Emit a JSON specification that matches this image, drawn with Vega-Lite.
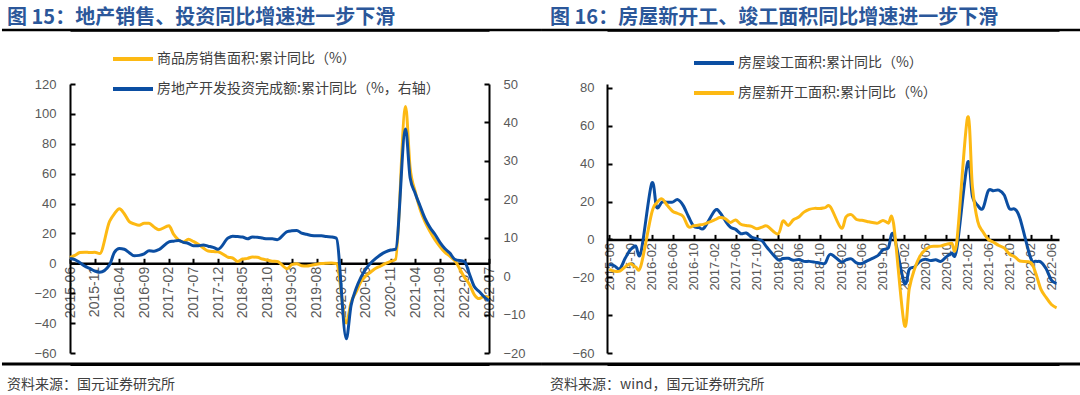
{
  "$schema": "https://vega.github.io/schema/vega-lite/v6.json",
  "autosize": {"type": "pad"},
  "padding": {"left": 0, "top": 7, "right": 0, "bottom": 0},
  "bounds": "flush",
  "spacing": 118,
  "resolve": {"scale": {"color": "independent"}, "legend": {"color": "independent"}},
  "config": {
    "view": {"stroke": null},
    "font": "Noto Sans CJK SC",
    "axis": {"grid": false, "domainColor": "#000000", "domainWidth": 2, "tickColor": "#000000", "tickWidth": 2, "labelFont": "Liberation Sans", "labelColor": "#595959", "labelFontSize": 13, "labelOverlap": false, "tickCount": 100}
  },
  "datasets": {
    "sales": [
      {"d":"2015-06-01","v":3.9},{"d":"2015-07-01","v":5.3},{"d":"2015-08-01","v":7.2},{"d":"2015-09-01","v":7.5},{"d":"2015-10-01","v":7.2},{"d":"2015-11-01","v":7.4},{"d":"2015-12-01","v":6.5},
      {"d":"2016-02-01","v":28.2},{"d":"2016-03-01","v":33.1},{"d":"2016-04-01","v":36.5},{"d":"2016-05-01","v":33.2},{"d":"2016-06-01","v":27.9},{"d":"2016-07-01","v":26.4},{"d":"2016-08-01","v":25.5},{"d":"2016-09-01","v":26.9},{"d":"2016-10-01","v":26.8},{"d":"2016-11-01","v":24.3},{"d":"2016-12-01","v":22.5},
      {"d":"2017-02-01","v":25.1},{"d":"2017-03-01","v":19.5},{"d":"2017-04-01","v":15.7},{"d":"2017-05-01","v":14.3},{"d":"2017-06-01","v":16.1},{"d":"2017-07-01","v":14.7},{"d":"2017-08-01","v":12.7},{"d":"2017-09-01","v":10.3},{"d":"2017-10-01","v":8.2},{"d":"2017-11-01","v":7.9},{"d":"2017-12-01","v":7.7},
      {"d":"2018-02-01","v":4.1},{"d":"2018-03-01","v":3.6},{"d":"2018-04-01","v":1.3},{"d":"2018-05-01","v":2.9},{"d":"2018-06-01","v":3.3},{"d":"2018-07-01","v":4.2},{"d":"2018-08-01","v":4.0},{"d":"2018-09-01","v":2.9},{"d":"2018-10-01","v":2.2},{"d":"2018-11-01","v":1.4},{"d":"2018-12-01","v":1.3},
      {"d":"2019-02-01","v":-3.6},{"d":"2019-03-01","v":-0.9},{"d":"2019-04-01","v":-0.3},{"d":"2019-05-01","v":-1.6},{"d":"2019-06-01","v":-1.8},{"d":"2019-07-01","v":-1.3},{"d":"2019-08-01","v":-0.6},{"d":"2019-09-01","v":-0.1},{"d":"2019-10-01","v":0.1},{"d":"2019-11-01","v":0.2},{"d":"2019-12-01","v":-0.1},
      {"d":"2020-02-01","v":-39.9},{"d":"2020-03-01","v":-26.3},{"d":"2020-04-01","v":-19.3},{"d":"2020-05-01","v":-12.3},{"d":"2020-06-01","v":-8.4},{"d":"2020-07-01","v":-5.8},{"d":"2020-08-01","v":-3.3},{"d":"2020-09-01","v":-1.8},{"d":"2020-10-01","v":0.0},{"d":"2020-11-01","v":1.3},{"d":"2020-12-01","v":2.6},
      {"d":"2021-02-01","v":104.9},{"d":"2021-03-01","v":63.8},{"d":"2021-04-01","v":48.1},{"d":"2021-05-01","v":36.3},{"d":"2021-06-01","v":27.7},{"d":"2021-07-01","v":21.5},{"d":"2021-08-01","v":15.9},{"d":"2021-09-01","v":11.3},{"d":"2021-10-01","v":7.5},{"d":"2021-11-01","v":4.8},{"d":"2021-12-01","v":1.9},
      {"d":"2022-02-01","v":-9.6},{"d":"2022-03-01","v":-13.8},{"d":"2022-04-01","v":-20.9},{"d":"2022-05-01","v":-23.6},{"d":"2022-06-01","v":-22.2},{"d":"2022-07-01","v":-23.1}
    ],
    "inv": [
      {"d":"2015-06-01","v":4.6},{"d":"2015-07-01","v":4.3},{"d":"2015-08-01","v":3.5},{"d":"2015-09-01","v":2.6},{"d":"2015-10-01","v":2.0},{"d":"2015-11-01","v":1.3},{"d":"2015-12-01","v":1.0},
      {"d":"2016-02-01","v":3.0},{"d":"2016-03-01","v":6.2},{"d":"2016-04-01","v":7.2},{"d":"2016-05-01","v":7.0},{"d":"2016-06-01","v":6.1},{"d":"2016-07-01","v":5.3},{"d":"2016-08-01","v":5.4},{"d":"2016-09-01","v":5.8},{"d":"2016-10-01","v":6.6},{"d":"2016-11-01","v":6.5},{"d":"2016-12-01","v":6.9},
      {"d":"2017-02-01","v":8.9},{"d":"2017-03-01","v":9.1},{"d":"2017-04-01","v":9.3},{"d":"2017-05-01","v":8.8},{"d":"2017-06-01","v":8.5},{"d":"2017-07-01","v":7.9},{"d":"2017-08-01","v":7.9},{"d":"2017-09-01","v":8.1},{"d":"2017-10-01","v":7.8},{"d":"2017-11-01","v":7.5},{"d":"2017-12-01","v":7.0},
      {"d":"2018-02-01","v":9.9},{"d":"2018-03-01","v":10.4},{"d":"2018-04-01","v":10.3},{"d":"2018-05-01","v":10.2},{"d":"2018-06-01","v":9.7},{"d":"2018-07-01","v":10.2},{"d":"2018-08-01","v":10.1},{"d":"2018-09-01","v":9.9},{"d":"2018-10-01","v":9.7},{"d":"2018-11-01","v":9.7},{"d":"2018-12-01","v":9.5},
      {"d":"2019-02-01","v":11.6},{"d":"2019-03-01","v":11.8},{"d":"2019-04-01","v":11.9},{"d":"2019-05-01","v":11.2},{"d":"2019-06-01","v":10.9},{"d":"2019-07-01","v":10.6},{"d":"2019-08-01","v":10.5},{"d":"2019-09-01","v":10.5},{"d":"2019-10-01","v":10.3},{"d":"2019-11-01","v":10.2},{"d":"2019-12-01","v":9.9},
      {"d":"2020-02-01","v":-16.3},{"d":"2020-03-01","v":-7.7},{"d":"2020-04-01","v":-3.3},{"d":"2020-05-01","v":-0.3},{"d":"2020-06-01","v":1.9},{"d":"2020-07-01","v":3.4},{"d":"2020-08-01","v":4.6},{"d":"2020-09-01","v":5.6},{"d":"2020-10-01","v":6.3},{"d":"2020-11-01","v":6.8},{"d":"2020-12-01","v":7.0},
      {"d":"2021-02-01","v":38.3},{"d":"2021-03-01","v":25.6},{"d":"2021-04-01","v":21.6},{"d":"2021-05-01","v":18.3},{"d":"2021-06-01","v":15.0},{"d":"2021-07-01","v":12.7},{"d":"2021-08-01","v":10.9},{"d":"2021-09-01","v":8.8},{"d":"2021-10-01","v":7.2},{"d":"2021-11-01","v":6.0},{"d":"2021-12-01","v":4.4},
      {"d":"2022-02-01","v":3.7},{"d":"2022-03-01","v":0.7},{"d":"2022-04-01","v":-2.7},{"d":"2022-05-01","v":-4.0},{"d":"2022-06-01","v":-5.4},{"d":"2022-07-01","v":-6.4}
    ],
    "comp": [
      {"d":"2015-06-01","v":-13.2},{"d":"2015-07-01","v":-14.0},{"d":"2015-08-01","v":-15.5},{"d":"2015-09-01","v":-10.0},{"d":"2015-10-01","v":-5.5},{"d":"2015-11-01","v":-3.5},{"d":"2015-12-01","v":-6.9},
      {"d":"2016-02-01","v":29.4},{"d":"2016-03-01","v":17.0},{"d":"2016-04-01","v":19.7},{"d":"2016-05-01","v":19.7},{"d":"2016-06-01","v":19.7},{"d":"2016-07-01","v":21.0},{"d":"2016-08-01","v":18.0},{"d":"2016-09-01","v":12.1},{"d":"2016-10-01","v":7.0},{"d":"2016-11-01","v":6.3},{"d":"2016-12-01","v":6.1},
      {"d":"2017-02-01","v":15.3},{"d":"2017-03-01","v":14.3},{"d":"2017-04-01","v":10.0},{"d":"2017-05-01","v":6.5},{"d":"2017-06-01","v":5.3},{"d":"2017-07-01","v":3.0},{"d":"2017-08-01","v":3.4},{"d":"2017-09-01","v":1.2},{"d":"2017-10-01","v":0.4},{"d":"2017-11-01","v":-0.8},{"d":"2017-12-01","v":-4.4},
      {"d":"2018-02-01","v":-10.7},{"d":"2018-03-01","v":-10.1},{"d":"2018-04-01","v":-10.0},{"d":"2018-05-01","v":-11.0},{"d":"2018-06-01","v":-10.6},{"d":"2018-07-01","v":-11.6},{"d":"2018-08-01","v":-11.6},{"d":"2018-09-01","v":-12.0},{"d":"2018-10-01","v":-12.5},{"d":"2018-11-01","v":-12.5},{"d":"2018-12-01","v":-7.8},
      {"d":"2019-02-01","v":-11.9},{"d":"2019-03-01","v":-10.8},{"d":"2019-04-01","v":-10.3},{"d":"2019-05-01","v":-12.4},{"d":"2019-06-01","v":-12.7},{"d":"2019-07-01","v":-11.3},{"d":"2019-08-01","v":-10.0},{"d":"2019-09-01","v":-8.6},{"d":"2019-10-01","v":-5.5},{"d":"2019-11-01","v":-4.5},{"d":"2019-12-01","v":2.6},
      {"d":"2020-02-01","v":-22.9},{"d":"2020-03-01","v":-15.8},{"d":"2020-04-01","v":-14.5},{"d":"2020-05-01","v":-11.6},{"d":"2020-06-01","v":-10.5},{"d":"2020-07-01","v":-11.2},{"d":"2020-08-01","v":-10.8},{"d":"2020-09-01","v":-11.6},{"d":"2020-10-01","v":-9.2},{"d":"2020-11-01","v":-7.3},{"d":"2020-12-01","v":-4.9},
      {"d":"2021-02-01","v":40.4},{"d":"2021-03-01","v":22.9},{"d":"2021-04-01","v":17.9},{"d":"2021-05-01","v":16.4},{"d":"2021-06-01","v":25.7},{"d":"2021-07-01","v":25.7},{"d":"2021-08-01","v":26.0},{"d":"2021-09-01","v":23.4},{"d":"2021-10-01","v":16.3},{"d":"2021-11-01","v":16.0},{"d":"2021-12-01","v":11.2},
      {"d":"2022-02-01","v":-9.8},{"d":"2022-03-01","v":-11.5},{"d":"2022-04-01","v":-11.9},{"d":"2022-05-01","v":-15.3},{"d":"2022-06-01","v":-21.5},{"d":"2022-07-01","v":-23.3}
    ],
    "start": [
      {"d":"2015-06-01","v":-15.8},{"d":"2015-07-01","v":-16.8},{"d":"2015-08-01","v":-16.8},{"d":"2015-09-01","v":-14.5},{"d":"2015-10-01","v":-12.8},{"d":"2015-11-01","v":-14.6},{"d":"2015-12-01","v":-14.0},
      {"d":"2016-02-01","v":13.7},{"d":"2016-03-01","v":19.2},{"d":"2016-04-01","v":21.4},{"d":"2016-05-01","v":18.0},{"d":"2016-06-01","v":14.9},{"d":"2016-07-01","v":13.7},{"d":"2016-08-01","v":12.2},{"d":"2016-09-01","v":6.7},{"d":"2016-10-01","v":7.2},{"d":"2016-11-01","v":7.6},{"d":"2016-12-01","v":8.1},
      {"d":"2017-02-01","v":10.4},{"d":"2017-03-01","v":11.6},{"d":"2017-04-01","v":11.0},{"d":"2017-05-01","v":9.0},{"d":"2017-06-01","v":10.3},{"d":"2017-07-01","v":8.0},{"d":"2017-08-01","v":7.4},{"d":"2017-09-01","v":6.9},{"d":"2017-10-01","v":5.6},{"d":"2017-11-01","v":6.5},{"d":"2017-12-01","v":7.0},
      {"d":"2018-02-01","v":2.9},{"d":"2018-03-01","v":9.7},{"d":"2018-04-01","v":7.4},{"d":"2018-05-01","v":10.4},{"d":"2018-06-01","v":11.8},{"d":"2018-07-01","v":14.4},{"d":"2018-08-01","v":15.9},{"d":"2018-09-01","v":16.4},{"d":"2018-10-01","v":16.3},{"d":"2018-11-01","v":16.8},{"d":"2018-12-01","v":17.2},
      {"d":"2019-02-01","v":6.0},{"d":"2019-03-01","v":11.9},{"d":"2019-04-01","v":13.1},{"d":"2019-05-01","v":10.5},{"d":"2019-06-01","v":10.1},{"d":"2019-07-01","v":9.5},{"d":"2019-08-01","v":8.9},{"d":"2019-09-01","v":8.6},{"d":"2019-10-01","v":10.0},{"d":"2019-11-01","v":8.6},{"d":"2019-12-01","v":8.5},
      {"d":"2020-02-01","v":-44.9},{"d":"2020-03-01","v":-26.0},{"d":"2020-04-01","v":-15.5},{"d":"2020-05-01","v":-9.0},{"d":"2020-06-01","v":-5.5},{"d":"2020-07-01","v":-3.8},{"d":"2020-08-01","v":-3.6},{"d":"2020-09-01","v":-3.4},{"d":"2020-10-01","v":-2.6},{"d":"2020-11-01","v":-2.0},{"d":"2020-12-01","v":-1.2},
      {"d":"2021-02-01","v":64.3},{"d":"2021-03-01","v":28.2},{"d":"2021-04-01","v":9.5},{"d":"2021-05-01","v":4.0},{"d":"2021-06-01","v":0.0},{"d":"2021-07-01","v":-1.5},{"d":"2021-08-01","v":-3.2},{"d":"2021-09-01","v":-4.5},{"d":"2021-10-01","v":-7.7},{"d":"2021-11-01","v":-9.1},{"d":"2021-12-01","v":-11.4},
      {"d":"2022-02-01","v":-12.2},{"d":"2022-03-01","v":-17.5},{"d":"2022-04-01","v":-26.3},{"d":"2022-05-01","v":-30.6},{"d":"2022-06-01","v":-34.4},{"d":"2022-07-01","v":-36.1}
    ]
  },
  "hconcat": [
    {
      "width": 419,
      "height": 269,
      "title": {"text": "图 15：地产销售、投资同比增速进一步下滑", "anchor": "start", "frame": "group", "dx": -63, "offset": 1, "fontSize": 20, "fontWeight": "bold", "font": "Noto Sans CJK SC", "color": "#2B579A"},
      "layer": [
        {
          "layer": [
            {
              "data": {"values": [{}]},
              "mark": {"type": "rule", "strokeWidth": 2.5, "color": "black"},
              "encoding": {
                "x": {"datum": 1396828800000, "type": "temporal", "axis": {"orient": "top", "offset": 54, "labels": false, "ticks": false, "title": null, "grid": false, "domainWidth": 2.5, "domainColor": "#000000"}},
                "x2": {"datum": 1684886400000},
                "y": {"datum": 156.1, "type": "quantitative"}
              }
            },
            {
              "data": {"values": [{}]},
              "mark": {"type": "rule", "strokeWidth": 3, "color": "black"},
              "encoding": {
                "x": {"datum": 1396828800000, "type": "temporal", "axis": {"orient": "bottom", "offset": 11, "labels": false, "ticks": false, "title": null, "grid": false, "domainWidth": 3, "domainColor": "#000000"}},
                "x2": {"datum": 1684886400000},
                "y": {"datum": -67.4, "type": "quantitative"}
              }
            },
            {
              "data": {"name": "sales"},
              "mark": {"type": "line", "strokeWidth": 3, "interpolate": "monotone"},
              "encoding": {
                "x": {
                  "field": "d", "type": "temporal",
                  "scale": {"domain": [{"year": 2015, "month": 6, "date": 1}, {"year": 2022, "month": 7, "date": 1}]},
                  "axis": {
                    "orient": "bottom", "title": null, "format": "%Y-%m", "labelAngle": 270, "offset": -89.7, "tickSize": -5, "labelPadding": 8, "labelFontSize": 14, "tickCount": 100,
                    "labelFlush": false, "labelOverlap": false, "labelBound": false, "domainWidth": 2.5,
                    "values": [
                      {"year": 2015, "month": 6, "date": 1}, {"year": 2015, "month": 11, "date": 1}, {"year": 2016, "month": 4, "date": 1}, {"year": 2016, "month": 9, "date": 1},
                      {"year": 2017, "month": 2, "date": 1}, {"year": 2017, "month": 7, "date": 1}, {"year": 2017, "month": 12, "date": 1}, {"year": 2018, "month": 5, "date": 1},
                      {"year": 2018, "month": 10, "date": 1}, {"year": 2019, "month": 3, "date": 1}, {"year": 2019, "month": 8, "date": 1}, {"year": 2020, "month": 1, "date": 1},
                      {"year": 2020, "month": 6, "date": 1}, {"year": 2020, "month": 11, "date": 1}, {"year": 2021, "month": 4, "date": 1}, {"year": 2021, "month": 9, "date": 1},
                      {"year": 2022, "month": 2, "date": 1}, {"year": 2022, "month": 7, "date": 1}
                    ]
                  }
                },
                "y": {
                  "field": "v", "type": "quantitative",
                  "scale": {"domain": [-60, 120], "nice": false, "zero": false},
                  "axis": {"title": null, "format": ".0f", "values": [-60, -40, -20, 0, 20, 40, 60, 80, 100, 120], "tickCount": 100, "labelOverlap": false, "tickSize": -5, "labelPadding": 19}
                },
                "color": {
                  "datum": "商品房销售面积:累计同比（%）", "type": "nominal",
                  "scale": {"domain": ["商品房销售面积:累计同比（%）", "房地产开发投资完成额:累计同比（%，右轴）"], "range": ["#FDB913", "#0B4EA2"]},
                  "legend": {"orient": "none", "legendX": 41, "legendY": -47, "title": null, "symbolType": "stroke", "symbolSize": 1600, "symbolStrokeWidth": 4, "labelFontSize": 14, "labelFont": "Noto Sans CJK SC", "labelColor": "#404040", "labelOffset": 2, "rowPadding": -1, "padding": 0, "labelLimit": 500}
                }
              }
            },
            {
              "data": {"values": [{"part": "source"}]},
              "mark": {"type": "text", "align": "left", "baseline": "middle", "fontSize": 14, "color": "#404040", "font": "Noto Sans CJK SC"},
              "encoding": {
                "x": {"datum": {"year": 2014, "month": 5, "date": 8}, "type": "temporal", "axis": null},
                "y": {"datum": -81.4, "type": "quantitative"},
                "text": {"value": "资料来源：国元证券研究所"}
              }
            }
          ],
          "resolve": {"axis": {"x": "independent"}}
        },
        {
          "data": {"name": "inv"},
          "mark": {"type": "line", "strokeWidth": 3, "interpolate": "monotone"},
          "encoding": {
            "x": {"field": "d", "type": "temporal", "scale": {"domain": [{"year": 2015, "month": 6, "date": 1}, {"year": 2022, "month": 7, "date": 1}]}, "axis": null},
            "y": {
              "field": "v", "type": "quantitative",
              "scale": {"domain": [-20, 50], "nice": false, "zero": false},
              "axis": {"orient": "right", "title": null, "format": ".0f", "values": [-20, -10, 0, 10, 20, 30, 40, 50], "tickCount": 100, "labelOverlap": false, "tickSize": -5, "labelPadding": 19}
            },
            "color": {"datum": "房地产开发投资完成额:累计同比（%，右轴）", "type": "nominal"}
          }
        }
      ],
      "resolve": {"scale": {"y": "independent"}, "axis": {"x": "independent"}}
    },
    {
      "width": 452,
      "height": 269,
      "title": {"text": "图 16：房屋新开工、竣工面积同比增速进一步下滑", "anchor": "start", "frame": "group", "dx": -57, "offset": 1, "fontSize": 20, "fontWeight": "bold", "font": "Noto Sans CJK SC", "color": "#2B579A"},
      "layer": [
        {
          "data": {"values": [{}]},
          "mark": {"type": "rule", "strokeWidth": 2.5, "color": "black"},
          "encoding": {
            "x": {"datum": 1399507200000, "type": "temporal", "axis": {"orient": "top", "offset": 54, "labels": false, "ticks": false, "title": null, "grid": false, "domainWidth": 2.5, "domainColor": "#000000"}},
            "x2": {"datum": 1669334400000},
            "y": {"datum": 110.6, "type": "quantitative"}
          }
        },
        {
          "data": {"values": [{}]},
          "mark": {"type": "rule", "strokeWidth": 3, "color": "black"},
          "encoding": {
            "x": {"datum": 1399507200000, "type": "temporal", "axis": {"orient": "bottom", "offset": 11, "labels": false, "ticks": false, "title": null, "grid": false, "domainWidth": 3, "domainColor": "#000000"}},
            "x2": {"datum": 1669334400000},
            "y": {"datum": -65.8, "type": "quantitative"}
          }
        },
        {
          "data": {"name": "comp"},
          "mark": {"type": "line", "strokeWidth": 3, "interpolate": "cardinal"},
          "encoding": {
            "x": {
              "field": "d", "type": "temporal",
              "scale": {"domain": [{"year": 2015, "month": 5, "date": 19}, {"year": 2022, "month": 7, "date": 15}]},
              "axis": {
                "orient": "bottom", "title": null, "format": "%Y-%m", "labelAngle": 270, "offset": -113.6, "tickSize": -5, "labelPadding": 8, "labelFontSize": 13, "tickCount": 100,
                "labelFlush": false, "labelOverlap": false, "labelBound": false, "domainWidth": 2.5,
                "values": [
                  {"year": 2015, "month": 6, "date": 1}, {"year": 2015, "month": 10, "date": 1}, {"year": 2016, "month": 2, "date": 1}, {"year": 2016, "month": 6, "date": 1},
                  {"year": 2016, "month": 10, "date": 1}, {"year": 2017, "month": 2, "date": 1}, {"year": 2017, "month": 6, "date": 1}, {"year": 2017, "month": 10, "date": 1},
                  {"year": 2018, "month": 2, "date": 1}, {"year": 2018, "month": 6, "date": 1}, {"year": 2018, "month": 10, "date": 1}, {"year": 2019, "month": 2, "date": 1},
                  {"year": 2019, "month": 6, "date": 1}, {"year": 2019, "month": 10, "date": 1}, {"year": 2020, "month": 2, "date": 1}, {"year": 2020, "month": 6, "date": 1},
                  {"year": 2020, "month": 10, "date": 1}, {"year": 2021, "month": 2, "date": 1}, {"year": 2021, "month": 6, "date": 1}, {"year": 2021, "month": 10, "date": 1},
                  {"year": 2022, "month": 2, "date": 1}, {"year": 2022, "month": 6, "date": 1}
                ]
              }
            },
            "y": {
              "field": "v", "type": "quantitative",
              "scale": {"domain": [-60, 82.1], "nice": false, "zero": false},
              "axis": {"title": null, "format": ".0f", "values": [-60, -40, -20, 0, 20, 40, 60, 80], "tickCount": 100, "labelOverlap": false, "tickSize": -5, "labelPadding": 18}
            },
            "color": {
              "datum": "房屋竣工面积:累计同比（%）", "type": "nominal",
              "scale": {"domain": ["房屋竣工面积:累计同比（%）", "房屋新开工面积:累计同比（%）"], "range": ["#0B4EA2", "#FDB913"]},
              "legend": {"orient": "none", "legendX": 85, "legendY": -43, "title": null, "symbolType": "stroke", "symbolSize": 1600, "symbolStrokeWidth": 4, "labelFontSize": 14, "labelFont": "Noto Sans CJK SC", "labelColor": "#404040", "labelOffset": 2, "rowPadding": -1, "padding": 0, "labelLimit": 500}
            }
          }
        },
        {
          "data": {"name": "start"},
          "mark": {"type": "line", "strokeWidth": 3, "interpolate": "cardinal"},
          "encoding": {
            "x": {"field": "d", "type": "temporal", "scale": {"domain": [{"year": 2015, "month": 5, "date": 19}, {"year": 2022, "month": 7, "date": 15}]}, "axis": null},
            "y": {"field": "v", "type": "quantitative", "scale": {"domain": [-60, 82.1], "nice": false, "zero": false}},
            "color": {"datum": "房屋新开工面积:累计同比（%）", "type": "nominal"}
          }
        },
        {
          "data": {"values": [{"part": "source2"}]},
          "mark": {"type": "text", "align": "left", "baseline": "middle", "fontSize": 14, "color": "#404040", "font": "Noto Sans CJK SC"},
          "encoding": {
            "x": {"datum": {"year": 2014, "month": 6, "date": 24}, "type": "temporal", "axis": null},
            "y": {"datum": -76.9, "type": "quantitative"},
            "text": {"value": "资料来源：wind，国元证券研究所"}
          }
        }
      ],
      "resolve": {"axis": {"x": "independent"}}
    }
  ]
}
